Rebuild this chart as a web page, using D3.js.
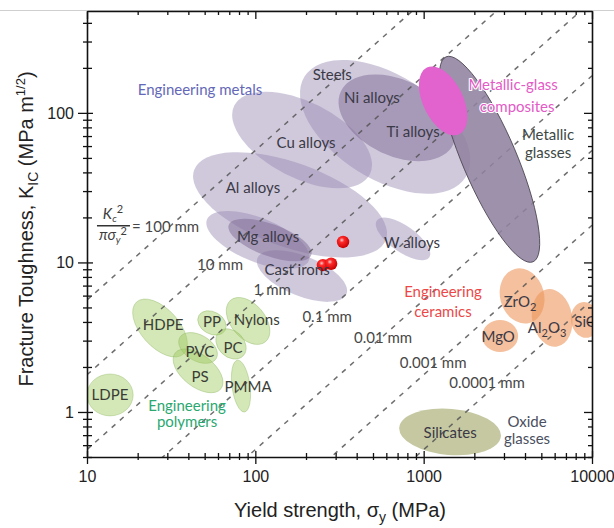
<!DOCTYPE html>
<html><head><meta charset="utf-8">
<script src="https://cdn.jsdelivr.net/npm/d3@7"></script>
<style>
body{margin:0;background:#fff;}
svg{display:block;font-family:"Liberation Sans",Arial,sans-serif;}
.lbl{font-family:Lato,"Open Sans",sans-serif;font-size:15px;}
.axis .domain{stroke:#111;stroke-width:1.6;}
.axis line{stroke:#111;stroke-width:1.3;}
.axis text{font-size:16px;fill:#222;font-family:"Liberation Sans",Arial,sans-serif;}
</style></head><body>
<svg id="chart" width="614" height="528"></svg>
<script>
// ---------- data ----------
// Yield strength (MPa) and fracture toughness (MPa m^1/2)
const xMajorTicks = [10, 100, 1000, 10000];
const yMajorTicks = [1, 10, 100];

// Process-zone lines K^2/(pi sigma^2) = L
const lengthScalesMm = [100, 10, 1, 0.1, 0.01, 0.001, 0.0001];
const lengthLabels = ["= 100 mm", "10 mm", "1 mm", "0.1 mm", "0.01 mm", "0.001 mm", "0.0001 mm"];
const lengthLabelSigma = [18.5, 61.7, 126, 267, 574, 1138, 2380];
const lengthLabelK = [17.3, 9.62, 6.55, 4.32, 3.13, 2.13, 1.56];

// Property bubbles: [name, sigma1, K1, sigma2, K2, half-width in decades]
const metalsLight = [
  ["Steels", 196, 175, 1778, 37.2, 0.348],
  ["Cu alloys", 75, 112, 479, 38.8, 0.254],
  ["Al alloys", 43.3, 41.5, 597, 14.2, 0.281],
  ["Mg alloys", 51.6, 19.4, 208, 10.3, 0.147],
  ["Cast irons", 103, 10.7, 348, 6.15, 0.134],
  ["W alloys", 527, 19.1, 1079, 10.8, 0.087]
];
const metalsDark = [
  ["Mg alloys", 69.5, 17.8, 215, 11.2, 0.107],
  ["Ni/Ti alloys", 322, 139, 1500, 61.8, 0.254]
];
const metallicGlasses = ["Metallic glasses", 1358, 237, 4467, 10.1, 0.181];
const glassComposites = ["Metallic-glass composites", 1045, 201, 1630, 72, 0.134];
const polymers = [
  ["LDPE", 10, 1.30, 18.8, 1.30, 0.140],
  ["HDPE", 19.7, 5.44, 37.4, 2.44, 0.127],
  ["PP", 46.2, 4.42, 66.1, 3.51, 0.074],
  ["Nylons", 71.3, 5.59, 115, 2.95, 0.114],
  ["PC", 60.8, 3.43, 84.5, 2.37, 0.087],
  ["PVC", 35.6, 3.15, 58.6, 2.28, 0.087],
  ["PS", 33.4, 2.48, 62.5, 1.43, 0.107],
  ["PMMA", 78.3, 2.22, 86.3, 1.0, 0.060]
];
const ceramics = [
  ["ZrO2", 3475, 9.05, 4250, 3.94, 0.147],
  ["Al2O3", 5410, 6.61, 6210, 2.74, 0.134],
  ["MgO", 2223, 3.22, 3640, 3.22, 0.107],
  ["SiC", 8730, 5.42, 9490, 3.14, 0.094]
];
const oxideGlasses = ["Silicates", 716, 0.787, 2877, 0.687, 0.154];

// Red points (cast irons)
const pointSigma = [332, 252, 282];
const pointK = [13.7, 9.6, 9.8];

// Text labels: [text, sigma, K, group]
const labels = [
  ["Engineering metals", 46.9, 142.6, "metalsTitle"],
  ["Steels", 286, 179, "metal"],
  ["Ni alloys", 493, 126, "metal"],
  ["Ti alloys", 865, 74.6, "metal"],
  ["Cu alloys", 200, 63, "metal"],
  ["Al alloys", 96.8, 31.5, "metal"],
  ["Mg alloys", 119, 14.8, "metal"],
  ["Cast irons", 177, 8.91, "metal"],
  ["W alloys", 853, 13.5, "metal"],
  ["Metallic-glass", 3400, 154, "comp"],
  ["composites", 3590, 110, "comp"],
  ["Metallic", 5480, 71.3, "mg"],
  ["glasses", 5480, 54, "mg"],
  ["Engineering", 1303, 6.35, "cer"],
  ["ceramics", 1303, 4.67, "cer"],
  ["MgO", 2770, 3.17, "metal"],
  ["Silicates", 1436, 0.724, "metal"],
  ["Oxide", 4110, 0.857, "ox"],
  ["glasses", 4110, 0.660, "ox"],
  ["LDPE", 13.7, 1.30, "poly"],
  ["HDPE", 28.3, 3.82, "poly"],
  ["PP", 55.3, 4.0, "poly"],
  ["Nylons", 102, 4.12, "poly"],
  ["PVC", 46.9, 2.52, "poly"],
  ["PC", 73.6, 2.68, "poly"],
  ["PS", 46.9, 1.71, "poly"],
  ["PMMA", 90.6, 1.47, "poly"],
  ["Engineering", 39.3, 1.10, "polyTitle"],
  ["polymers", 39.3, 0.857, "polyTitle"]
];
// labels with subscripts: [base, sub, tail, sigma, K, sub2]
const subLabels = [
  ["ZrO", "2", "", 3740, 5.44],
  ["Al", "2", "O", 5410, 3.65, "3"],
  ["SiC", "", "", 9100, 4.0]
];

// ---------- chart ----------
const W = 614, H = 528;
const svg = d3.select("#chart");
const x = d3.scaleLog().domain([10, 10000]).range([87, 592]);
const y = d3.scaleLog().domain([0.5, 480]).range([457, 11]);
const decY = y(1) - y(10);

svg.append("line").attr("x1", 0).attr("x2", W).attr("y1", 10.5).attr("y2", 10.5)
  .attr("stroke", "#cfcfcf").attr("stroke-width", 1);

const defs = svg.append("defs");
defs.append("clipPath").attr("id", "clip").append("rect")
  .attr("x", x(10)).attr("y", y(480)).attr("width", x(10000) - x(10)).attr("height", y(0.5) - y(480));
const grad = defs.append("radialGradient").attr("id", "ball").attr("cx", "40%").attr("cy", "35%").attr("r", "65%");
grad.append("stop").attr("offset", "0%").attr("stop-color", "#ffd0d0");
grad.append("stop").attr("offset", "30%").attr("stop-color", "#ff2a2a");
grad.append("stop").attr("offset", "100%").attr("stop-color", "#c80000");

const plot = svg.append("g").attr("clip-path", "url(#clip)");

function bubble(g, d, fill, opacity, stroke, sw) {
  const [, s1, k1, s2, k2, w] = d;
  const X1 = x(s1), Y1 = y(k1), X2 = x(s2), Y2 = y(k2);
  const cx = (X1 + X2) / 2, cy = (Y1 + Y2) / 2;
  const a = Math.hypot(X2 - X1, Y2 - Y1) / 2;
  const ang = Math.atan2(Y2 - Y1, X2 - X1) * 180 / Math.PI;
  const e = g.append("ellipse")
    .attr("transform", `translate(${cx},${cy}) rotate(${ang})`)
    .attr("rx", a).attr("ry", w * decY)
    .attr("fill", fill).attr("fill-opacity", opacity);
  if (stroke) e.attr("stroke", stroke).attr("stroke-width", sw || 0.8);
  else e.attr("stroke", "none");
}

metalsLight.forEach(d => bubble(plot, d, "rgb(150,135,178)", 0.45));
metalsDark.forEach(d => bubble(plot, d, "rgb(125,105,148)", 0.5));
polymers.forEach(d => bubble(plot, d, "rgb(160,202,95)", 0.45, "rgba(135,180,90,0.45)", 0.8));
ceramics.forEach(d => bubble(plot, d, "rgb(236,150,92)", 0.6));
bubble(plot, oxideGlasses, "rgb(178,182,130)", 0.75);

// dashed process-zone lines
const lineGen = d3.line().x(d => x(d[0])).y(d => y(d[1]));
lengthScalesMm.forEach(L => {
  const c = Math.sqrt(Math.PI * L / 1000);
  plot.append("path")
    .attr("d", lineGen([[10, 10 * c], [10000, 10000 * c]]))
    .attr("fill", "none").attr("stroke", "#555").attr("stroke-width", 1.5)
    .attr("stroke-dasharray", "5,6").attr("opacity", 0.85);
});

bubble(plot, metallicGlasses, "rgb(145,130,160)", 0.88, "#4a4450", 0.8);
bubble(plot, glassComposites, "rgb(226,98,206)", 1);

// red points
plot.selectAll("circle.pt").data(pointSigma).join("circle").attr("class", "pt")
  .attr("cx", (d, i) => x(d)).attr("cy", (d, i) => y(pointK[i])).attr("r", 6.2)
  .attr("fill", "url(#ball)");

// labels
const colors = {
  metal: "#3b3946", metalsTitle: "#6468b8", comp: "#e45ac6", mg: "#3e4844",
  cer: "#ec4848", ox: "#4a5060", poly: "#3a3d36", polyTitle: "#2aa870"
};
const lab = plot.append("g").attr("class", "lbl");
labels.forEach(([t, s, k, grp]) => {
  const tx = lab.append("text").attr("x", x(s)).attr("y", y(k)).attr("dy", "0.35em")
    .attr("text-anchor", "middle").attr("fill", colors[grp]).text(t);
  if (grp === "comp") tx.attr("stroke", "#fff").attr("stroke-width", 2.2)
    .attr("paint-order", "stroke").attr("stroke-linejoin", "round");
});
subLabels.forEach(d => {
  const tx = lab.append("text").attr("x", x(d[3])).attr("y", y(d[4])).attr("dy", "0.35em")
    .attr("text-anchor", "middle").attr("fill", colors.metal);
  tx.append("tspan").text(d[0]);
  if (d[1]) {
    tx.append("tspan").attr("dy", 4).attr("font-size", 11).text(d[1]);
    if (d[2]) {
      tx.append("tspan").attr("dy", -4).text(d[2]);
      tx.append("tspan").attr("dy", 4).attr("font-size", 11).text(d[5]);
    }
  }
});

// line labels
lengthLabels.forEach((t, i) => {
  lab.append("text").attr("x", x(lengthLabelSigma[i])).attr("y", y(lengthLabelK[i])).attr("dy", "0.35em")
    .attr("text-anchor", i === 0 ? "start" : "middle").attr("fill", "#474747").text(t);
});
// fraction K_c^2 / (pi sigma_y^2)
{
  const ax = x(lengthLabelSigma[0]), ay = y(lengthLabelK[0]);
  const fr = svg.append("g").attr("class", "lbl").attr("fill", "#3d3d3d").attr("font-style", "italic");
  const num = fr.append("text").attr("x", ax - 19).attr("y", ay - 8).attr("text-anchor", "middle");
  num.append("tspan").text("K");
  num.append("tspan").attr("dy", 3).attr("font-size", 10).text("c");
  num.append("tspan").attr("dy", -9).attr("font-size", 11).attr("font-style", "normal").text("2");
  fr.append("line").attr("x1", ax - 35).attr("x2", ax - 2).attr("y1", ay - 1).attr("y2", ay - 1)
    .attr("stroke", "#333").attr("stroke-width", 1.5);
  const den = fr.append("text").attr("x", ax - 19).attr("y", ay + 13).attr("text-anchor", "middle");
  den.append("tspan").text("πσ");
  den.append("tspan").attr("dy", 3).attr("font-size", 10).text("y");
  den.append("tspan").attr("dy", -8).attr("font-size", 11).attr("font-style", "normal").text("2");
}

// ---------- axes ----------
const X0 = x(10), X1 = x(10000), Y0 = y(0.5), Y1 = y(480);
const xMinor = x.ticks().filter(v => !xMajorTicks.includes(v));
const yMinor = y.ticks().filter(v => !yMajorTicks.includes(v));
function style(g) { g.attr("class", "axis"); return g; }

// bottom
style(svg.append("g").attr("transform", `translate(0,${Y0})`))
  .call(d3.axisBottom(x).tickValues(xMajorTicks).tickSize(7).tickSizeOuter(0).tickPadding(7)
    .tickFormat(d3.format("d")));
style(svg.append("g").attr("transform", `translate(0,${Y0})`))
  .call(d3.axisBottom(x).tickValues(xMinor).tickSize(3).tickSizeOuter(0).tickFormat(""))
  .select(".domain").remove();
style(svg.append("g").attr("transform", `translate(0,${Y0})`))
  .call(d3.axisTop(x).tickValues(x.ticks()).tickSize(4).tickSizeOuter(0).tickFormat(""))
  .call(g => g.selectAll(".tick line").attr("y2", v => xMajorTicks.includes(v) ? -6 : -4))
  .select(".domain").remove();
// top
style(svg.append("g").attr("transform", `translate(0,${Y1})`))
  .call(d3.axisBottom(x).tickValues(x.ticks()).tickSize(4).tickSizeOuter(0).tickFormat(""))
  .call(g => g.selectAll(".tick line").attr("y2", v => xMajorTicks.includes(v) ? 8 : 4));
// left
style(svg.append("g").attr("transform", `translate(${X0},0)`))
  .call(d3.axisLeft(y).tickValues(yMajorTicks).tickSize(9).tickSizeOuter(0).tickPadding(4)
    .tickFormat(d3.format("d")));
style(svg.append("g").attr("transform", `translate(${X0},0)`))
  .call(d3.axisLeft(y).tickValues(yMinor).tickSize(4).tickSizeOuter(0).tickFormat(""))
  .select(".domain").remove();
style(svg.append("g").attr("transform", `translate(${X0},0)`))
  .call(d3.axisRight(y).tickValues(y.ticks()).tickSize(5).tickSizeOuter(0).tickFormat(""))
  .call(g => g.selectAll(".tick line").attr("x2", v => yMajorTicks.includes(v) ? 6 : 5))
  .select(".domain").remove();
// right
style(svg.append("g").attr("transform", `translate(${X1},0)`))
  .call(d3.axisLeft(y).tickValues(y.ticks()).tickSize(4).tickSizeOuter(0).tickFormat(""))
  .call(g => g.selectAll(".tick line").attr("x2", v => yMajorTicks.includes(v) ? -8 : -4));

// axis titles
const xt = svg.append("text").attr("x", 340).attr("y", 517).attr("text-anchor", "middle")
  .attr("font-size", 20).attr("fill", "#222");
xt.append("tspan").text("Yield strength, σ");
xt.append("tspan").attr("dy", 5).attr("font-size", 14).text("y");
xt.append("tspan").attr("dy", -5).text(" (MPa)");

const yt = svg.append("text").attr("transform", "translate(33,229) rotate(-90)")
  .attr("text-anchor", "middle").attr("font-size", 20).attr("fill", "#222");
yt.append("tspan").text("Fracture Toughness, K");
yt.append("tspan").attr("dy", 5).attr("font-size", 14).text("IC");
yt.append("tspan").attr("dy", -5).text(" (MPa m");
yt.append("tspan").attr("dy", -8).attr("font-size", 13).text("1/2");
yt.append("tspan").attr("dy", 8).text(")");
</script>
</body></html>
